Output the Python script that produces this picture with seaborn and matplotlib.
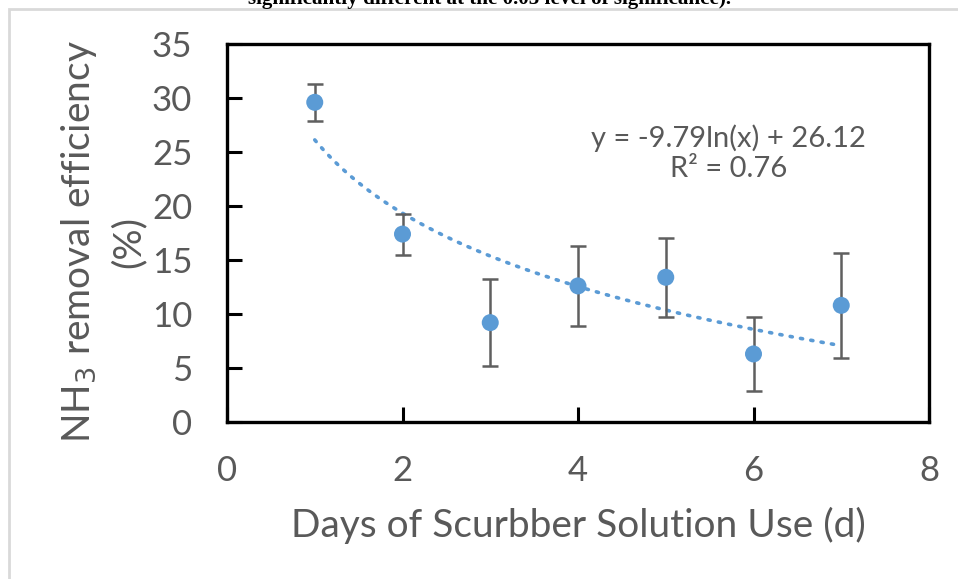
import numpy as np
import pandas as pd
import matplotlib
matplotlib.use("Agg")
import matplotlib.pyplot as plt
import seaborn as sns
from matplotlib.patches import Rectangle

# Ammonia removal efficiency by day of scrubber solution use
days = [1, 2, 3, 4, 5, 6, 7]
efficiency = [29.6, 17.4, 9.2, 12.6, 13.4, 6.3, 10.8]
error = [1.7, 1.9, 4.0, 3.7, 3.65, 3.4, 4.85]

# Logarithmic trend line coefficients
fit_a = -9.79
fit_b = 26.12
fit_r2 = 0.76

x_ticks = [0, 2, 4, 6, 8]
y_ticks = [0, 5, 10, 15, 20, 25, 30, 35]

caption = "significantly different at the 0.05 level of significance)."

df = pd.DataFrame({"day": days, "eff": efficiency, "err": error})

sns.set_theme(style="white")
plt.rcParams["font.family"] = ["Lato", "DejaVu Sans"]

text_color = "#595959"
blue = "#5B9BD5"

fig = plt.figure(figsize=(9.58, 5.79), dpi=100)
ax = fig.add_axes([227 / 958, 1 - 422 / 579, (929 - 227) / 958, (422 - 44) / 579])

# trend line
xs = np.linspace(min(days), max(days), 200)
trend = pd.DataFrame({"x": xs, "y": fit_a * np.log(xs) + fit_b})
sns.lineplot(data=trend, x="x", y="y", ax=ax, color=blue, lw=2.6,
             linestyle=(0, (0.6, 2.3)), dash_capstyle="round", zorder=2)

# error bars
ax.errorbar(df["day"], df["eff"], yerr=df["err"], fmt="none", ecolor="#5f5f5f",
            elinewidth=1.8, capsize=6, capthick=1.8, zorder=3)

# data points
sns.scatterplot(data=df, x="day", y="eff", ax=ax, color=blue, s=150,
                edgecolor="none", zorder=4)

ax.set_xlim(0, 8)
ax.set_ylim(0, 35)
ax.set_xticks(x_ticks)
ax.set_yticks(y_ticks)
ax.tick_params(axis="both", direction="in", length=11, width=2.2, color="black",
               labelsize=25, labelcolor=text_color)
ax.tick_params(axis="x", pad=24)
ax.tick_params(axis="y", pad=25)
ax.tick_params(top=False, right=False, left=True, bottom=True)
for s in ax.spines.values():
    s.set_color("black")
    s.set_linewidth(2.4)

ax.set_xlabel("Days of Scurbber Solution Use (d)", fontsize=28, color=text_color)
ax.xaxis.set_label_coords(0.5, -0.225)
ax.set_ylabel("NH$_3$ removal efficiency\n(%)", fontsize=28, color=text_color,
              linespacing=1.4)
ax.yaxis.set_label_coords(-0.114, 0.476)

ax.text(0.714, 0.712, f"y = {fit_a}ln(x) + {fit_b}\nR² = {fit_r2}", transform=ax.transAxes,
        ha="center", va="center", fontsize=21, color=text_color, linespacing=1.2)

# outer frame of the chart area
fig.patches.append(Rectangle((9 / 958, -0.1), 1.2, 1 - 9 / 579 + 0.1, transform=fig.transFigure,
                             fill=False, edgecolor="#d9d9d9", linewidth=2, zorder=0))

fig.text(489 / 958, 1 - 4 / 579, caption, ha="center", va="baseline",
         fontsize=15.2, fontweight="bold", family="Liberation Serif", color="black")

fig.savefig("out.png", dpi=100, facecolor="white")
